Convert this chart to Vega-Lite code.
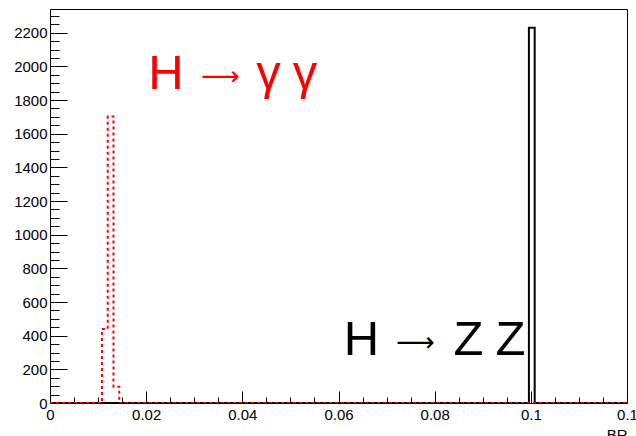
{
  "$schema": "https://vega.github.io/schema/vega-lite/v6.json",
  "width": 577,
  "height": 394,
  "autosize": {"type": "none"},
  "padding": {"left": 50, "top": 9, "right": 9, "bottom": 33},
  "background": "white",
  "config": {
    "view": {"stroke": "black", "strokeWidth": 1},
    "font": "Liberation Sans",
    "axis": {"labelFont": "Liberation Sans", "titleFont": "Liberation Sans", "labelColor": "black", "titleColor": "black", "tickColor": "black", "domain": false, "grid": false, "labelFontSize": 15, "titleFontSize": 15, "titleFontWeight": "normal"}
  },
  "datasets": {
    "hist": [
      {"channel": "ZZ", "br": 0, "entries": 0},
      {"channel": "ZZ", "br": 0.0996, "entries": 2230},
      {"channel": "ZZ", "br": 0.1008, "entries": 0},
      {"channel": "ZZ", "br": 0.12, "entries": 0},
      {"channel": "gg", "br": 0, "entries": 0},
      {"channel": "gg", "br": 0.0108, "entries": 440},
      {"channel": "gg", "br": 0.012, "entries": 1702},
      {"channel": "gg", "br": 0.0132, "entries": 97},
      {"channel": "gg", "br": 0.0144, "entries": 0},
      {"channel": "gg", "br": 0.12, "entries": 0}
    ],
    "letters": [
      {"label": "H", "br": 0.024125, "entries": 1866, "col": "red"},
      {"label": "γ", "br": 0.045443, "entries": 1866, "col": "red"},
      {"label": "γ", "br": 0.053033, "entries": 1866, "col": "red"},
      {"label": "H", "br": 0.064783, "entries": 285, "col": "black"},
      {"label": "Z", "br": 0.087036, "entries": 285, "col": "black"},
      {"label": "Z", "br": 0.095771, "entries": 285, "col": "black"}
    ],
    "arrows": [
      {"label": "⟶", "br": 0.03546, "entries": 1890, "col": "red"},
      {"label": "⟶", "br": 0.076014, "entries": 309, "col": "black"}
    ]
  },
  "resolve": {"axis": {"x": "independent", "y": "independent"}},
  "layer": [
    {
      "data": {"name": "hist"},
      "transform": [{"filter": "datum.channel === 'ZZ'"}],
      "mark": {"type": "line", "interpolate": "step-after", "color": "black", "strokeWidth": 2, "clip": true},
      "encoding": {
        "x": {"field": "br", "type": "quantitative", "scale": {"domain": [0, 0.12], "nice": false, "zero": false},
          "axis": {"orient": "bottom", "title": "BR", "titleAnchor": "end", "titleAlign": "right", "titleBaseline": "top", "titleX": 577, "titleY": 24,
            "values": [0, 0.02, 0.04, 0.06, 0.08, 0.1, 0.12], "format": "~g", "tickSize": -12, "labelPadding": 16, "labelOverlap": false, "labelFlush": false, "labelBound": false}},
        "y": {"field": "entries", "type": "quantitative", "scale": {"domain": [0, 2341], "nice": false},
          "axis": {"orient": "left", "title": null, "values": [0, 200, 400, 600, 800, 1000, 1200, 1400, 1600, 1800, 2000, 2200], "format": "d", "tickSize": -17, "labelPadding": 20, "labelOverlap": false, "labelFlush": false, "labelBound": false}}
      }
    },
    {
      "data": {"name": "hist"},
      "transform": [{"filter": "datum.channel === 'gg'"}],
      "mark": {"type": "line", "interpolate": "step-after", "color": "red", "strokeWidth": 2, "strokeDash": [3, 3], "clip": true},
      "encoding": {
        "x": {"field": "br", "type": "quantitative", "scale": {"domain": [0, 0.12], "nice": false, "zero": false},
          "axis": {"orient": "bottom", "title": null, "labels": false, "tickSize": -6,
            "values": [0.005, 0.01, 0.015, 0.025, 0.03, 0.035, 0.045, 0.05, 0.055, 0.065, 0.07, 0.075, 0.085, 0.09, 0.095, 0.105, 0.11, 0.115]}},
        "y": {"field": "entries", "type": "quantitative", "scale": {"domain": [0, 2341], "nice": false},
          "axis": {"orient": "left", "title": null, "labels": false, "tickSize": -9,
            "values": [50, 100, 150, 250, 300, 350, 450, 500, 550, 650, 700, 750, 850, 900, 950, 1050, 1100, 1150, 1250, 1300, 1350, 1450, 1500, 1550, 1650, 1700, 1750, 1850, 1900, 1950, 2050, 2100, 2150, 2250, 2300]}}
      }
    },
    {
      "data": {"name": "letters"},
      "mark": {"type": "text", "align": "center", "baseline": "alphabetic", "fontSize": 49, "font": "Liberation Sans"},
      "encoding": {
        "x": {"field": "br", "type": "quantitative", "axis": null},
        "y": {"field": "entries", "type": "quantitative", "axis": null},
        "text": {"field": "label"},
        "color": {"field": "col", "type": "nominal", "scale": null, "legend": null}
      }
    },
    {
      "data": {"name": "arrows"},
      "mark": {"type": "text", "align": "center", "baseline": "alphabetic", "fontSize": 27, "font": "DejaVu Sans"},
      "encoding": {
        "x": {"field": "br", "type": "quantitative", "axis": null},
        "y": {"field": "entries", "type": "quantitative", "axis": null},
        "text": {"field": "label"},
        "color": {"field": "col", "type": "nominal", "scale": null, "legend": null}
      }
    }
  ]
}
